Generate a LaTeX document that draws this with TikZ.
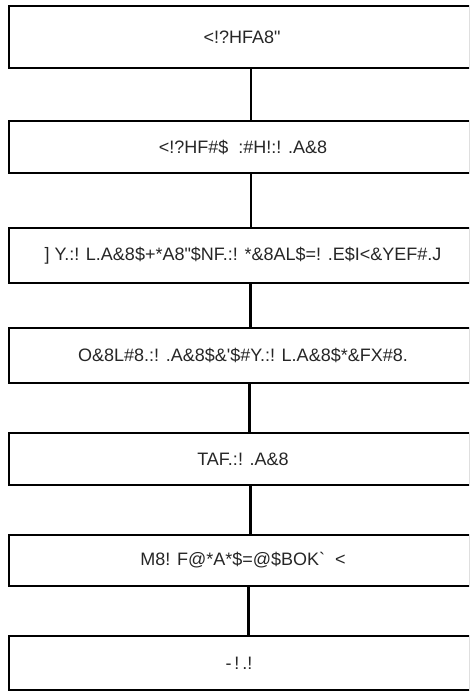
\documentclass[tikz,border=0pt]{standalone}
\usepackage{fontspec}
\newfontfamily\boxfont{Liberation Sans}
\begin{document}
\begin{tikzpicture}[x=1pt,y=1pt,
  stepbox/.style={draw=black, line width=2.5pt, rectangle, minimum width=461pt, inner sep=0pt},
  steptext/.style={inner sep=0pt, font=\boxfont\fontsize{18}{20}\selectfont, text=black!85},
  link/.style={draw=black, line width=2.5pt}]
\useasboundingbox (0,0) rectangle (469,-691);
\begin{scope}
\clip (0,0) rectangle (469,-691);
\node[stepbox, minimum height=62pt] (b1) at (239.5,-37) {};
\node[stepbox, minimum height=52pt] (b2) at (239.5,-147) {};
\node[stepbox, minimum height=55pt] (b3) at (239.5,-255.5) {};
\node[stepbox, minimum height=55pt] (b4) at (239.5,-355.5) {};
\node[stepbox, minimum height=52pt] (b5) at (239.5,-459) {};
\node[stepbox, minimum height=51pt] (b6) at (239.5,-560.5) {};
\node[stepbox, minimum height=54pt] (b7) at (239.5,-663) {};
\end{scope}
\node[steptext] (t1) at (242,-37) {<!?HFA8"};
\node[steptext] (t2) at (243,-147) {<!?HF\#\$\ \ :\#H!:! .A\&8};
\node[steptext] (t3) at (243,-255.5) {] Y.:! L.A\&8\$+*A8"\$NF.:! *\&8AL\$=! .E\$I<\&YEF\#.J};
\node[steptext] (t4) at (243,-355.5) {O\&8L\#8.:! .A\&8\$\&'\$\#Y.:! L.A\&8\$*\&FX\#8.};
\node[steptext] (t5) at (243,-459) {TAF.:! .A\&8};
\node[steptext] (t6) at (243,-560.5) {M8! F@*A*\$=@\$BOK`\ \ <};
\node[steptext] (t7) at (239,-663) {-\,!\,.!};
\draw[link] ([xshift=11.5pt]b1.south) -- ([xshift=11.5pt]b2.north);
\draw[link] ([xshift=11.5pt]b2.south) -- ([xshift=11.5pt]b3.north);
\draw[link] ([xshift=11pt]b3.south) -- ([xshift=11pt]b4.north);
\draw[link] ([xshift=10pt]b4.south) -- ([xshift=10pt]b5.north);
\draw[link] ([xshift=11pt]b5.south) -- ([xshift=11pt]b6.north);
\draw[link] ([xshift=9pt]b6.south) -- ([xshift=9pt]b7.north);
\end{tikzpicture}
\end{document}
